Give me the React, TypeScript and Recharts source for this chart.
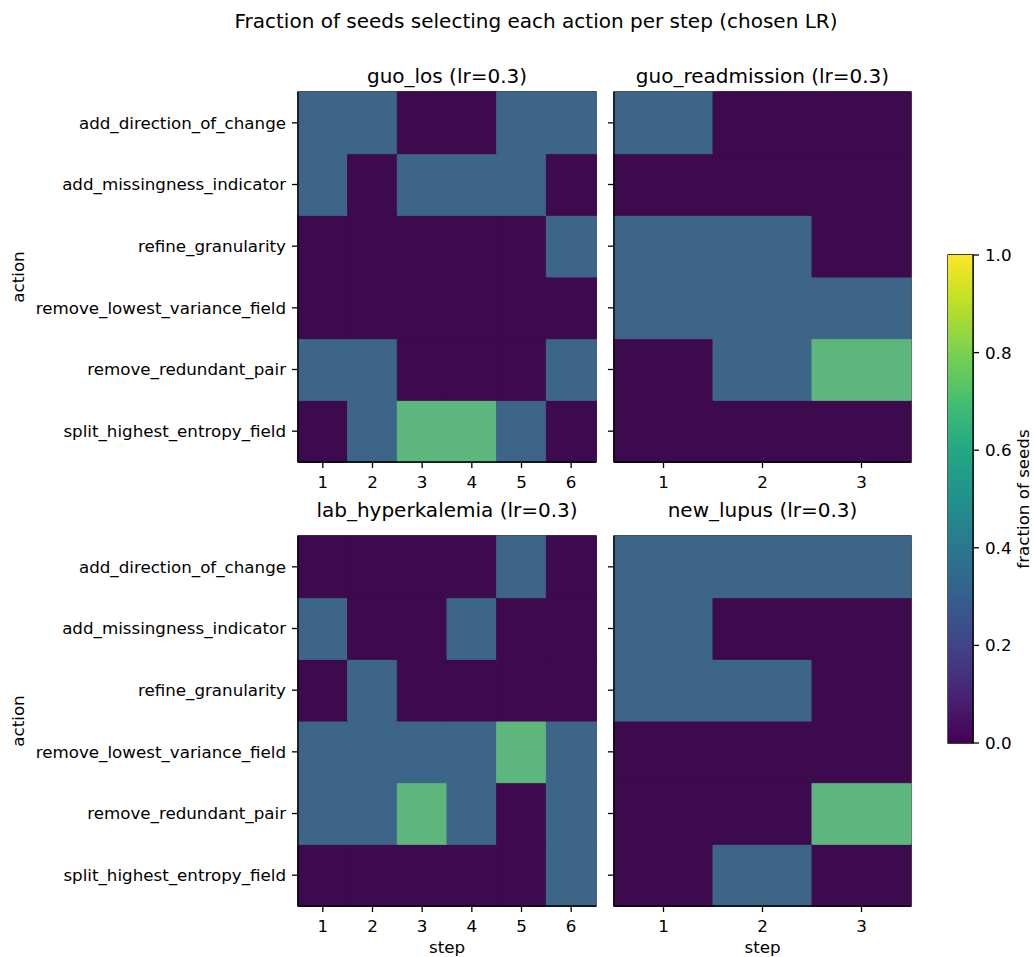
import { Bar, BarChart, Cell, ReferenceArea, XAxis, YAxis } from "recharts";

const FONT = "'DejaVu Sans', sans-serif";
const INK = "#000";

const ACTIONS = [
  "add_direction_of_change",
  "add_missingness_indicator",
  "refine_granularity",
  "remove_lowest_variance_field",
  "remove_redundant_pair",
  "split_highest_entropy_field",
];

const STEPS_LONG = [1, 2, 3, 4, 5, 6];
const STEPS_SHORT = [1, 2, 3];

// rows follow ACTIONS (top to bottom), columns follow the steps
const guoLos = [
  [0.33, 0.33, 0, 0, 0.33, 0.33],
  [0.33, 0, 0.33, 0.33, 0.33, 0],
  [0, 0, 0, 0, 0, 0.33],
  [0, 0, 0, 0, 0, 0],
  [0.33, 0.33, 0, 0, 0, 0.33],
  [0, 0.33, 0.67, 0.67, 0.33, 0],
];

const guoReadmission = [
  [0.33, 0, 0],
  [0, 0, 0],
  [0.33, 0.33, 0],
  [0.33, 0.33, 0.33],
  [0, 0.33, 0.67],
  [0, 0, 0],
];

const labHyperkalemia = [
  [0, 0, 0, 0, 0.33, 0],
  [0.33, 0, 0, 0.33, 0, 0],
  [0, 0.33, 0, 0, 0, 0],
  [0.33, 0.33, 0.33, 0.33, 0.67, 0.33],
  [0.33, 0.33, 0.67, 0.33, 0, 0.33],
  [0, 0, 0, 0, 0, 0.33],
];

const newLupus = [
  [0.33, 0.33, 0.33],
  [0.33, 0, 0],
  [0.33, 0.33, 0],
  [0, 0, 0],
  [0, 0, 0.67],
  [0, 0.33, 0],
];

const COLORBAR_TICKS = [0, 0.2, 0.4, 0.6, 0.8, 1];

const VIRIDIS = [
  "#440154", "#482475", "#414487", "#355f8d", "#2a788e", "#21918c",
  "#22a884", "#44bf70", "#7ad151", "#bddf26", "#fde725",
];

// colours of the three levels as they appear in the picture
function cellColor(v: number) {
  if (v < 0.17) return "#3e0a4f";
  if (v < 0.5) return "#3d6587";
  return "#5db77c";
}

const tickStyle = { fill: INK, fontSize: 16.7, fontFamily: FONT };
const lineStyle = { stroke: INK, strokeWidth: 1.3 };

const PANEL_W_LEFT = 298;
const PANEL_W_RIGHT = 297;
const PANEL_H = 370;

function Heatmap({
  steps,
  values,
  left,
  top,
  width,
  labelled,
}: {
  steps: number[];
  values: number[][];
  left: number;
  top: number;
  width: number;
  labelled: boolean;
}) {
  const data = steps.map((step) => {
    const row: Record<string, number> = { step };
    ACTIONS.forEach((_, i) => {
      row[`r${i}`] = 1;
    });
    return row;
  });
  const axisW = labelled ? left : 12;
  const stackOrder = ACTIONS.map((_, i) => ACTIONS.length - 1 - i);

  return (
    <div style={{ position: "absolute", left: left - axisW, top: top - 2 }}>
      <BarChart
        width={axisW + width + 2}
        height={PANEL_H + 2 + 40}
        data={data}
        margin={{ top: 2, right: 2, left: 0, bottom: 0 }}
        barCategoryGap={0}
        barGap={0}
      >
        <XAxis
          dataKey="step"
          type="category"
          interval={0}
          height={40}
          tick={tickStyle}
          tickSize={6}
          tickMargin={8}
          tickLine={lineStyle}
          axisLine={lineStyle}
        />
        <YAxis
          type="number"
          domain={[0, ACTIONS.length]}
          ticks={ACTIONS.map((_, i) => i + 0.5)}
          interval={0}
          width={axisW}
          tick={tickStyle}
          tickSize={6}
          tickMargin={6}
          tickLine={lineStyle}
          axisLine={lineStyle}
          tickFormatter={(v: number) => (labelled ? ACTIONS[ACTIONS.length - 1 - Math.floor(v)] : "")}
        />
        {stackOrder.map((i) => (
          <Bar key={i} dataKey={`r${i}`} stackId="cells" isAnimationActive={false}>
            {steps.map((s, j) => (
              <Cell key={s} fill={cellColor(values[i][j])} stroke={cellColor(values[i][j])} strokeWidth={1} />
            ))}
          </Bar>
        ))}
        <ReferenceArea
          x1={steps[0]}
          x2={steps[steps.length - 1]}
          y1={0}
          y2={ACTIONS.length}
          fill="none"
          fillOpacity={0}
          stroke={INK}
          strokeWidth={1.3}
          ifOverflow="visible"
        />
      </BarChart>
    </div>
  );
}

function Colorbar({ left, top, height }: { left: number; top: number; height: number }) {
  const pad = 12;
  return (
    <div style={{ position: "absolute", left: left - 2, top: top - pad }}>
      <BarChart
        width={2 + 25 + 50}
        height={height + pad * 2}
        data={[{ name: "cbar", v: 1 }]}
        margin={{ top: pad, right: 0, left: 2, bottom: pad }}
        barCategoryGap={0}
      >
        <defs>
          <linearGradient id="viridis" x1="0" y1="1" x2="0" y2="0">
            {VIRIDIS.map((c, i) => (
              <stop key={c} offset={i / (VIRIDIS.length - 1)} stopColor={c} />
            ))}
          </linearGradient>
        </defs>
        <XAxis dataKey="name" height={0} tick={false} tickLine={false} axisLine={false} />
        <YAxis
          yAxisId="cb"
          orientation="right"
          type="number"
          domain={[0, 1]}
          ticks={COLORBAR_TICKS}
          interval={0}
          width={50}
          tick={{ ...tickStyle, textAnchor: "start" }}
          tickSize={6}
          tickMargin={6}
          tickLine={lineStyle}
          axisLine={lineStyle}
          tickFormatter={(v: number) => v.toFixed(1)}
        />
        <Bar dataKey="v" yAxisId="cb" fill="url(#viridis)" isAnimationActive={false} />
        <ReferenceArea
          yAxisId="cb"
          x1="cbar"
          x2="cbar"
          y1={0}
          y2={1}
          fill="none"
          fillOpacity={0}
          stroke={INK}
          strokeWidth={1.3}
          ifOverflow="visible"
        />
      </BarChart>
    </div>
  );
}

function Label({ x, y, text, size, rotate }: { x: number; y: number; text: string; size: number; rotate?: boolean }) {
  return (
    <div
      style={{
        position: "absolute",
        left: x,
        top: y,
        transform: `translate(-50%, -50%)${rotate ? " rotate(-90deg)" : ""}`,
        fontSize: size,
        fontFamily: FONT,
        color: INK,
        whiteSpace: "nowrap",
        lineHeight: 1,
      }}
    >
      {text}
    </div>
  );
}

export default function App() {
  const topY = 92;
  const bottomY = 536;
  const leftX = 298;
  const rightX = 614;
  const leftC = leftX + PANEL_W_LEFT / 2;
  const rightC = rightX + PANEL_W_RIGHT / 2;

  return (
    <div
      style={{
        position: "absolute",
        left: 0,
        top: 0,
        width: 1034,
        height: 957,
        background: "#fff",
        fontFamily: FONT,
      }}
    >
      <Label x={536} y={21} size={20} text="Fraction of seeds selecting each action per step (chosen LR)" />

      <Label x={leftC} y={topY - 16} size={20} text="guo_los (lr=0.3)" />
      <Label x={rightC} y={topY - 16} size={20} text="guo_readmission (lr=0.3)" />
      <Label x={leftC} y={bottomY - 26} size={20} text="lab_hyperkalemia (lr=0.3)" />
      <Label x={rightC} y={bottomY - 26} size={20} text="new_lupus (lr=0.3)" />

      <Heatmap steps={STEPS_LONG} values={guoLos} left={leftX} top={topY} width={PANEL_W_LEFT} labelled />
      <Heatmap steps={STEPS_SHORT} values={guoReadmission} left={rightX} top={topY} width={PANEL_W_RIGHT} labelled={false} />
      <Heatmap steps={STEPS_LONG} values={labHyperkalemia} left={leftX} top={bottomY} width={PANEL_W_LEFT} labelled />
      <Heatmap steps={STEPS_SHORT} values={newLupus} left={rightX} top={bottomY} width={PANEL_W_RIGHT} labelled={false} />

      <Label x={18} y={topY + PANEL_H / 2} size={16.7} rotate text="action" />
      <Label x={18} y={bottomY + PANEL_H / 2} size={16.7} rotate text="action" />
      <Label x={leftC} y={947} size={16.7} text="step" />
      <Label x={rightC} y={947} size={16.7} text="step" />

      <Colorbar left={948} top={255} height={488} />
      <Label x={1023} y={499} size={16.7} rotate text="fraction of seeds" />
    </div>
  );
}
